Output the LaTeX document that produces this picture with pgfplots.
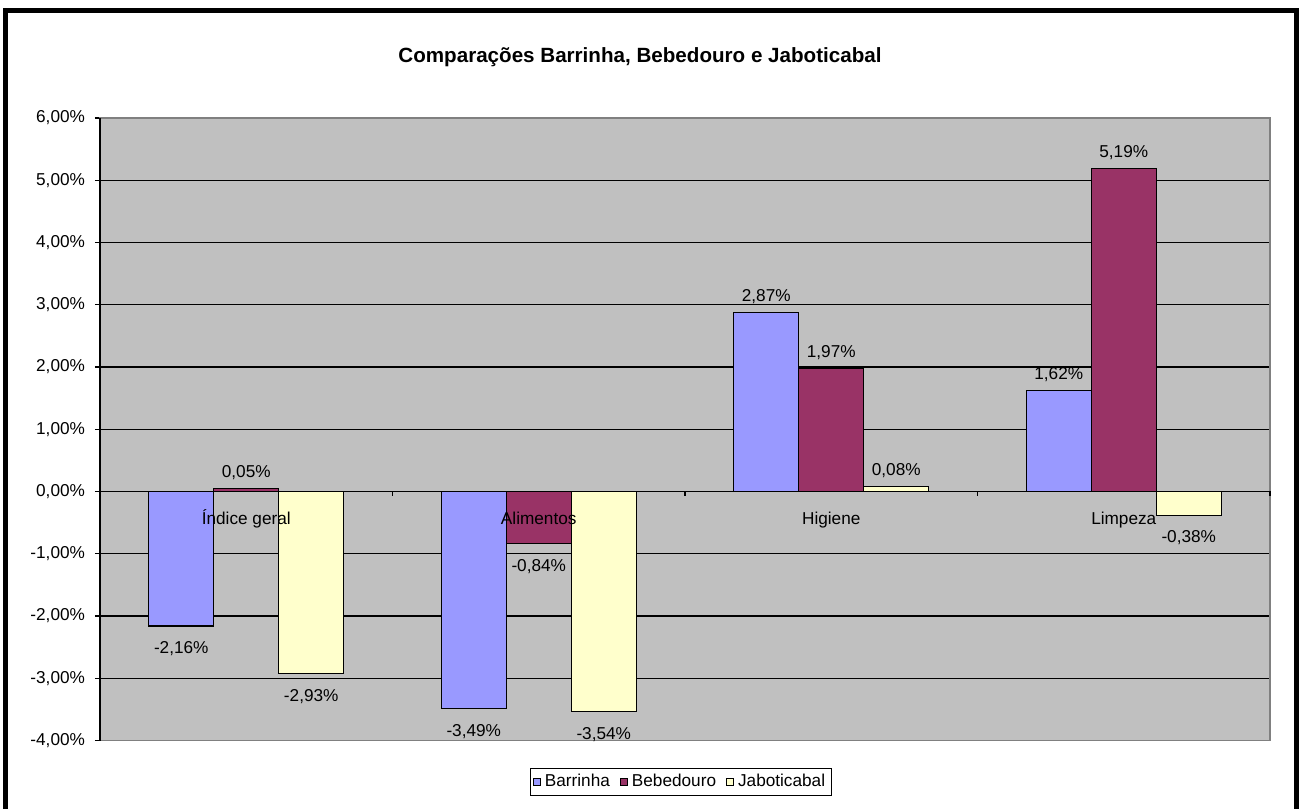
\documentclass[border=0pt]{standalone}
\usepackage{pgfplots}
\pgfplotsset{compat=1.18}
\usepackage{fontspec}
\setmainfont{Liberation Sans}

\definecolor{barr}{HTML}{9999FF}
\definecolor{bebe}{HTML}{993366}
\definecolor{jabo}{HTML}{FFFFCC}
\definecolor{plotbg}{HTML}{C0C0C0}
\definecolor{framegray}{HTML}{808080}

\pgfplotsset{
  pct/.style={nodes near coords={\pgfmathprintnumber{\pgfplotspointmeta}\%}},
  poslab/.style={pct,
    every node near coord/.append style={anchor=south, inner sep=2pt, yshift=2.2pt}},
  neglab/.style={pct,
    every node near coord/.append style={anchor=north, inner sep=2pt, yshift=-5.4pt}},
}

\begin{document}
\begin{tikzpicture}
\useasboundingbox (-50pt,-33.75pt) rectangle (599.5pt,370.25pt);
\begin{axis}[
    at={(0pt,0pt)}, anchor=south west,
    scale only axis,
    width=585pt, height=311.25pt,
    xmin=-0.5, xmax=3.5,
    ymin=-4, ymax=6,
    font=\fontsize{8.6}{10}\selectfont,
    ybar=0pt, bar width=0.2222,
    axis background/.style={fill=plotbg},
    axis line style={draw=framegray, line width=0.75pt},
    ymajorgrids=true,
    grid style={black, line width=0.65pt},
    ytick={-4,-3,...,6},
    ytick pos=left,
    tick align=outside,
    major tick length=2.5pt,
    ytick style={black, line width=0.65pt},
    /pgf/number format/.cd, fixed, fixed zerofill, precision=2, use comma, assume math mode=true,
    /pgfplots/.cd,
    yticklabel={\pgfmathprintnumber{\tick}\%},
    yticklabel style={xshift=-1.5pt},
    xtick={0,1,2,3},
    xticklabels={},
    xtick style={draw=none},
    legend columns=-1,
    legend style={at={(0.4966,-0.0667)}, anchor=center, draw=black, line width=0.5pt,
      font=\fontsize{8.6}{10}\selectfont, inner xsep=1pt, inner ysep=1pt,
      /tikz/every even column/.append style={column sep=3pt}},
    legend image code/.code={\draw[#1, draw=black, line width=0.5pt] (0pt,-1.75pt) rectangle (3.5pt,1.75pt);},
]
% Barrinha
\addplot[fill=barr, draw=black, line width=0.6pt, bar shift=-0.2222, poslab]
  coordinates {(2,2.87) (3,1.62)};
\addlegendentry{Barrinha}
% Bebedouro
\addplot[fill=bebe, draw=black, line width=0.6pt, bar shift=0, poslab]
  coordinates {(0,0.05) (2,1.97) (3,5.19)};
\addlegendentry{Bebedouro}
% Jaboticabal
\addplot[fill=jabo, draw=black, line width=0.6pt, bar shift=0.2222, poslab]
  coordinates {(2,0.08)};
\addlegendentry{Jaboticabal}
% negative values, labels below the bars
\addplot[fill=barr, draw=black, line width=0.6pt, bar shift=-0.2222, neglab, forget plot]
  coordinates {(0,-2.16) (1,-3.49)};
\addplot[fill=bebe, draw=black, line width=0.6pt, bar shift=0, neglab, forget plot]
  coordinates {(1,-0.84)};
\addplot[fill=jabo, draw=black, line width=0.6pt, bar shift=0.2222, neglab, forget plot]
  coordinates {(0,-2.93) (1,-3.54) (3,-0.38)};
\end{axis}
% y axis line and category separators on the zero line
\draw[black, line width=0.75pt] (0pt,0pt) -- (0pt,311.25pt);
\foreach \xx in {146.25,292.5,438.75,585} {
  \draw[black, line width=0.65pt] (\xx pt,124.5pt) -- (\xx pt,122pt);
}
% category names sit on the zero line, over the bars
\begin{scope}[font=\fontsize{8.6}{10}\selectfont]
\node[anchor=base] at (73.125pt,107.75pt) {Índice geral};
\node[anchor=base] at (219.375pt,107.75pt) {Alimentos};
\node[anchor=base] at (365.625pt,107.75pt) {Higiene};
\node[anchor=base] at (511.875pt,107.75pt) {Limpeza};
\end{scope}
% title and outer frame
\node[anchor=base, font=\fontsize{10.3}{12}\selectfont\bfseries] at (270pt,338.75pt)
  {Comparações Barrinha, Bebedouro e Jaboticabal};
\draw[black, line width=2.5pt] (-47.25pt,-40pt) rectangle (598pt,365pt);
\end{tikzpicture}
\end{document}
